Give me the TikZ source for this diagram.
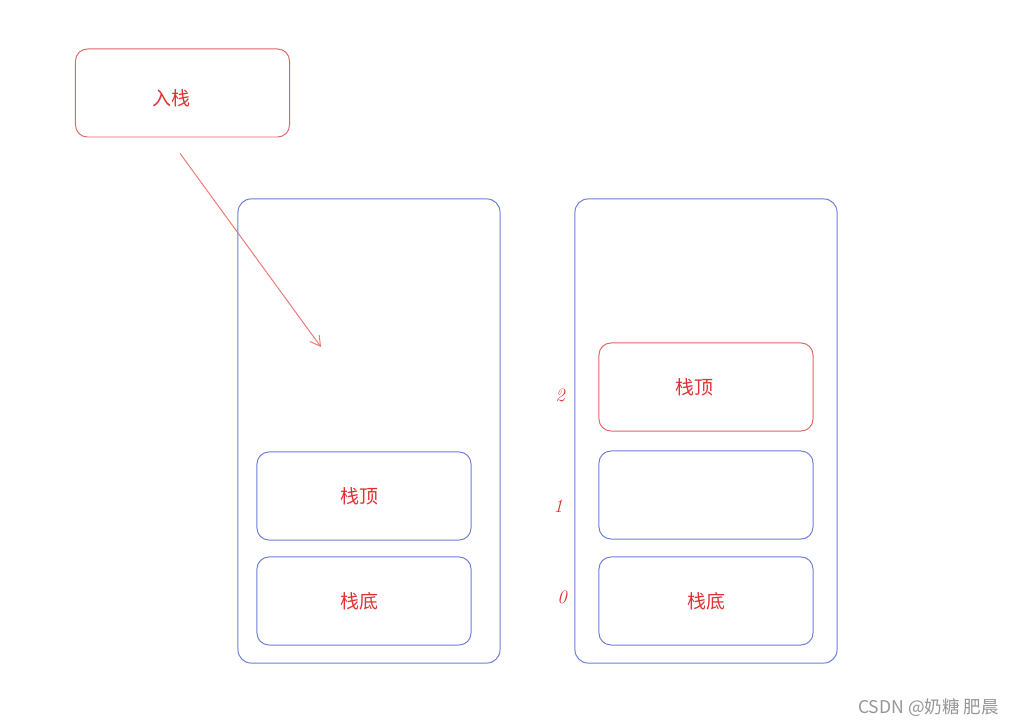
\documentclass[tikz,border=0pt]{standalone}
\usepackage{fontspec}
\newfontfamily\cjk{Noto Sans CJK SC}
\usetikzlibrary{arrows.meta}
\definecolor{stackblue}{RGB}{108,126,218}
\definecolor{boxred}{RGB}{226,102,102}
\definecolor{textred}{RGB}{224,49,49}
\definecolor{arrowred}{RGB}{238,120,120}
\definecolor{markgray}{RGB}{150,150,150}

\begin{document}
\begin{tikzpicture}[x=0.025cm, y=-0.025cm,
                    every node/.style={font=\cjk\fontsize{13.5}{16}\selectfont, text=textred},
                    stack_style/.style={draw=stackblue, line width=0.7pt, rounded corners=0.33cm,
                                        minimum width=6.55cm, minimum height=11.6cm},
                    cell_style/.style={draw=stackblue, line width=0.7pt, rounded corners=0.3cm,
                                       minimum width=5.35cm, minimum height=2.2cm},
                    redcell_style/.style={cell_style, draw=boxred},
                    index_style/.style={font=\itshape\fontsize{13.5}{15}\selectfont},
                    arrow_style/.style={draw=arrowred, line width=0.7pt, -{Straight Barb[length=7pt, width=8pt]}}]
                    \useasboundingbox (0, 0) rectangle (1019, 727);
                    % push box and arrow
                    \node[redcell_style, label={[xshift=-0.28cm, yshift=-0.13cm]center:入栈}] (push) at (182.5, 93) {};
                    \coordinate (pushend) at (321, 347);
                    \draw[arrow_style] ([xshift=-0.06cm, yshift=-0.4cm]push.south) -- (pushend);
                    % left stack
                    \node[stack_style] (lstack) at (369, 431) {};
                    \node[cell_style] (ltop) at (364, 496) {\hspace*{-0.25cm}栈顶};
                    \node[cell_style] (lbottom) at (364, 601) {\hspace*{-0.25cm}栈底};
                    % right stack
                    \node[stack_style] (rstack) at (706, 431) {};
                    \node[redcell_style] (rtop) at (706, 387) {\hspace*{-0.6cm}栈顶};
                    \node[cell_style] (rmid) at (706, 495) {};
                    \node[cell_style] (rbottom) at (706, 601) {栈底};
                    % indices
                    \node[index_style] (i2) at (560, 395) {2};
                    \node[index_style] (i1) at (558, 506) {1};
                    \node[index_style] (i0) at (562, 597) {0};
                    % watermark
                    \node[text=markgray, font=\cjk\fontsize{12.5}{15}\selectfont, anchor=east] (mark) at (1004, 708) {CSDN @奶糖 肥晨};
                \end{tikzpicture}
\end{document}
